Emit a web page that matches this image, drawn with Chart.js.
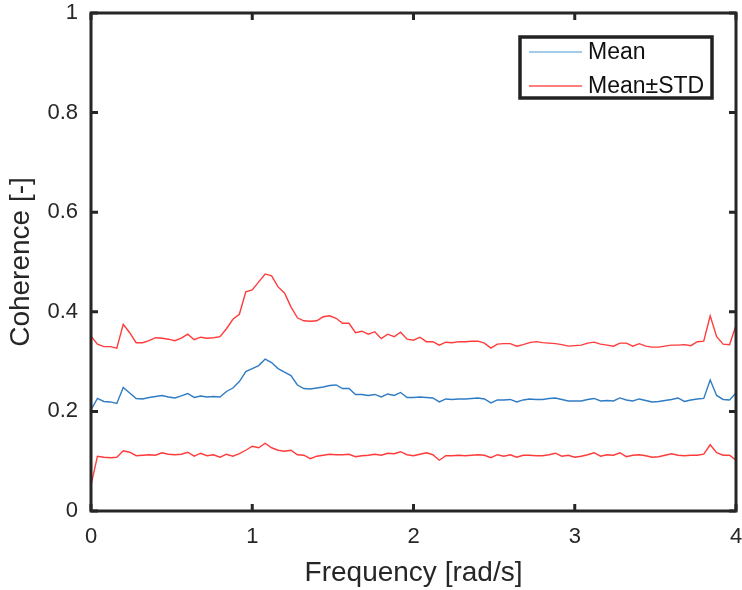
<!DOCTYPE html>
<html>
<head>
<meta charset="utf-8">
<script src="https://cdn.jsdelivr.net/npm/chart.js@4.4.1/dist/chart.umd.min.js"></script>
<style>
  html, body { margin: 0; padding: 0; background: #ffffff; }
  #wrap { width: 742px; height: 590px; }
</style>
</head>
<body>
<div id="wrap"><canvas id="c" width="742" height="590"></canvas></div>
<script>
// Frequency grid [rad/s]
const freq = [];
for (let i = 0; i <= 100; i++) freq.push(+(i * 0.04).toFixed(2));

const meanVals = [
0.203,0.226,0.220,0.219,0.216,0.248,0.237,0.226,0.225,0.228,
0.230,0.232,0.229,0.227,0.231,0.236,0.228,0.231,0.229,0.230,
0.229,0.240,0.247,0.260,0.280,0.286,0.292,0.305,0.298,0.286,
0.279,0.272,0.253,0.246,0.245,0.247,0.249,0.252,0.253,0.246,
0.246,0.234,0.234,0.232,0.234,0.229,0.235,0.232,0.238,0.228,
0.228,0.229,0.228,0.227,0.219,0.225,0.224,0.225,0.225,0.226,
0.227,0.225,0.217,0.223,0.223,0.224,0.219,0.223,0.225,0.224,
0.224,0.226,0.227,0.224,0.221,0.221,0.221,0.224,0.226,0.221,
0.222,0.221,0.227,0.223,0.221,0.225,0.222,0.219,0.220,0.222,
0.224,0.227,0.220,0.223,0.225,0.226,0.263,0.232,0.224,0.223,
0.237];

const upperVals = [
0.351,0.335,0.330,0.330,0.327,0.375,0.358,0.338,0.338,0.342,
0.348,0.347,0.345,0.342,0.347,0.355,0.344,0.349,0.347,0.348,
0.350,0.366,0.385,0.395,0.440,0.444,0.460,0.476,0.472,0.450,
0.438,0.410,0.388,0.382,0.381,0.382,0.390,0.392,0.387,0.377,
0.377,0.358,0.361,0.355,0.360,0.346,0.355,0.350,0.359,0.345,
0.343,0.349,0.340,0.340,0.333,0.339,0.338,0.340,0.340,0.341,
0.341,0.337,0.327,0.335,0.336,0.336,0.331,0.334,0.338,0.340,
0.338,0.337,0.336,0.334,0.331,0.332,0.333,0.337,0.339,0.335,
0.333,0.331,0.337,0.337,0.331,0.336,0.331,0.329,0.329,0.331,
0.333,0.333,0.334,0.332,0.340,0.341,0.392,0.350,0.335,0.334,
0.373];

const lowerVals = [
0.052,0.110,0.108,0.107,0.108,0.121,0.118,0.111,0.112,0.113,
0.112,0.117,0.114,0.113,0.114,0.118,0.110,0.116,0.111,0.113,
0.108,0.114,0.110,0.115,0.122,0.130,0.127,0.136,0.127,0.122,
0.120,0.122,0.113,0.112,0.105,0.110,0.112,0.114,0.113,0.113,
0.114,0.109,0.111,0.112,0.114,0.112,0.116,0.115,0.119,0.113,
0.111,0.114,0.117,0.113,0.102,0.111,0.111,0.112,0.111,0.112,
0.113,0.112,0.107,0.113,0.110,0.113,0.108,0.112,0.112,0.111,
0.111,0.113,0.116,0.110,0.112,0.108,0.110,0.113,0.117,0.110,
0.113,0.112,0.117,0.109,0.112,0.113,0.111,0.108,0.109,0.112,
0.115,0.112,0.111,0.112,0.112,0.114,0.133,0.117,0.112,0.112,
0.102];

const xTicks = [0, 1, 2, 3, 4];
const yTicks = [0, 0.2, 0.4, 0.6, 0.8, 1];
const legendLabels = ['Mean', 'Mean\u00B1STD'];

const BLUE = '#2f7cc4';
const RED = '#ff3b3b';
const AXC = '#262626';
const FONT = '"Liberation Sans", Arial, Helvetica, sans-serif';

const pts = vals => vals.map((v, i) => ({ x: freq[i], y: v }));

const framePlugin = {
  id: 'frame',
  afterDraw(chart) {
    const { ctx, chartArea: a, scales } = chart;
    const xs = scales.x, ys = scales.y;
    ctx.save();
    ctx.strokeStyle = AXC;
    ctx.lineWidth = 3;
    ctx.strokeRect(a.left, a.top, a.right - a.left, a.bottom - a.top);
    const tl = 7;
    ctx.beginPath();
    xTicks.forEach(t => {
      const px = xs.getPixelForValue(t);
      ctx.moveTo(px, a.bottom); ctx.lineTo(px, a.bottom - tl);
      ctx.moveTo(px, a.top); ctx.lineTo(px, a.top + tl);
    });
    yTicks.forEach(t => {
      const py = ys.getPixelForValue(t);
      ctx.moveTo(a.left, py); ctx.lineTo(a.left + tl, py);
      ctx.moveTo(a.right, py); ctx.lineTo(a.right - tl, py);
    });
    ctx.stroke();

    // legend
    const lx = 520, ly = 37, lw = 192, lh = 61;
    ctx.fillStyle = '#ffffff';
    ctx.fillRect(lx, ly, lw, lh);
    ctx.lineWidth = 3.5;
    ctx.strokeStyle = '#222222';
    ctx.strokeRect(lx, ly, lw, lh);
    const cols = ['#4a9ad6', '#ff0000'];
    const rows = [ly + 15, ly + 49];
    ctx.font = '23px ' + FONT;
    ctx.textBaseline = 'middle';
    ctx.textAlign = 'left';
    legendLabels.forEach((lab, i) => {
      ctx.strokeStyle = cols[i];
      ctx.lineWidth = 1.2;
      ctx.beginPath();
      ctx.moveTo(lx + 9, rows[i]); ctx.lineTo(lx + 62, rows[i]);
      ctx.stroke();
      ctx.fillStyle = '#111111';
      ctx.fillText(lab, lx + 68, rows[i] + 1);
    });
    ctx.restore();
  }
};

new Chart(document.getElementById('c'), {
  type: 'line',
  data: {
    datasets: [
      { label: 'Mean', data: pts(meanVals), borderColor: BLUE, borderWidth: 1.4, pointRadius: 0, tension: 0, fill: false },
      { label: 'Mean+STD', data: pts(upperVals), borderColor: RED, borderWidth: 1.4, pointRadius: 0, tension: 0, fill: false },
      { label: 'Mean-STD', data: pts(lowerVals), borderColor: RED, borderWidth: 1.4, pointRadius: 0, tension: 0, fill: false }
    ]
  },
  options: {
    responsive: false,
    animation: false,
    devicePixelRatio: 1,
    layout: { padding: { left: 0, top: 13, right: 6, bottom: 0 } },
    plugins: { legend: { display: false }, tooltip: { enabled: false } },
    scales: {
      x: {
        type: 'linear', min: 0, max: 4,
        afterBuildTicks: s => { s.ticks = xTicks.map(v => ({ value: v })); },
        afterFit: s => { s.height = 79; s.paddingLeft = 0; s.paddingRight = 0; },
        grid: { display: false, drawTicks: false },
        border: { display: false },
        ticks: { color: AXC, padding: 13, maxRotation: 0, font: { family: FONT, size: 22 }, callback: v => String(v) },
        title: { display: true, text: 'Frequency [rad/s]', color: AXC, font: { family: FONT, size: 28 }, padding: { top: 0, bottom: 0 } }
      },
      y: {
        type: 'linear', min: 0, max: 1,
        afterBuildTicks: s => { s.ticks = yTicks.map(v => ({ value: v })); },
        afterFit: s => { s.width = 91; s.paddingTop = 0; s.paddingBottom = 0; },
        grid: { display: false, drawTicks: false },
        border: { display: false },
        ticks: { color: AXC, padding: 13, font: { family: FONT, size: 22 }, callback: v => (v === 0 || v === 1) ? String(v) : v.toFixed(1) },
        title: { display: true, text: 'Coherence [-]', color: AXC, font: { family: FONT, size: 28 }, padding: { top: 4, bottom: 0 } }
      }
    }
  },
  plugins: [framePlugin]
});
</script>
</body>
</html>
